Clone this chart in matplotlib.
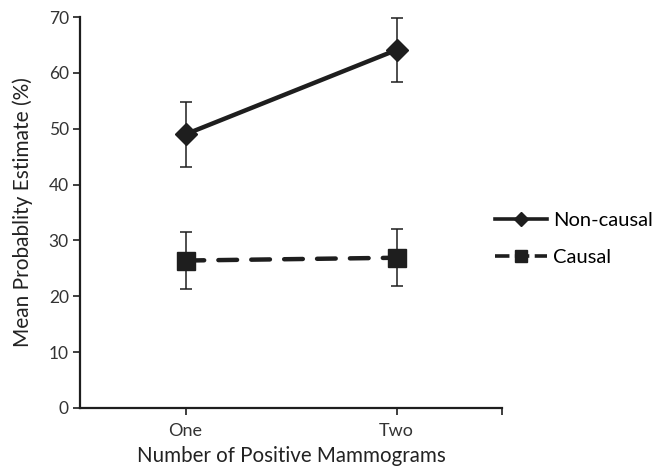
import matplotlib
matplotlib.use("Agg")
import matplotlib.pyplot as plt
from matplotlib.lines import Line2D

plt.rcParams['font.family'] = ['Lato', 'DejaVu Sans']

# data
categories = ["One", "Two"]
noncausal_mean = [49.0, 64.1]
noncausal_err = [5.8, 5.8]
causal_mean = [26.4, 26.9]
causal_err = [5.1, 5.1]

ink = "#1e1e1e"
dash = (0, (4.2, 3.2))
x = list(range(len(categories)))

fig = plt.figure(figsize=(6.57, 4.68), dpi=100)
ax = fig.add_axes([80/657, 1 - 408/468, (502 - 80)/657, (408 - 17)/468])

ax.errorbar(x, noncausal_mean, yerr=noncausal_err, color=ink, lw=3.2,
            marker="D", ms=11, ecolor=ink, elinewidth=1.1, capsize=4.5,
            capthick=1.1)
ax.errorbar(x, causal_mean, yerr=causal_err, color=ink, lw=3.2,
            ls=dash, dash_capstyle="round",
            marker="s", ms=13, ecolor=ink, elinewidth=1.1, capsize=4.5,
            capthick=1.1)

ax.set_xlim(-0.5, 1.5)
ax.set_ylim(0, 70)
ax.set_yticks(range(0, 71, 10))
ax.set_xticks(x)
ax.set_xticklabels(categories)
ax.set_xticks([1.5], minor=True)

for side in ["top", "right"]:
    ax.spines[side].set_visible(False)
for side in ["left", "bottom"]:
    ax.spines[side].set_color(ink)
    ax.spines[side].set_linewidth(1.6)
ax.tick_params(axis="both", which="both", color=ink, width=1.2, length=5,
               labelcolor="#333333")
ax.tick_params(axis="y", labelsize=12.5, pad=3)
ax.tick_params(axis="x", labelsize=13, pad=6)

ax.set_xlabel("Number of Positive Mammograms", fontsize=14.8, color="#222222",
              labelpad=4.5)
ax.set_ylabel("Mean Probablity Estimate (%)", fontsize=15, color="#222222",
              labelpad=11)

handles = [
    Line2D([], [], color=ink, lw=2.6, marker="D", ms=7.5),
    Line2D([], [], color=ink, lw=2.6, ls=(0, (4, 1.5)), marker="s", ms=9),
]
fig.legend(handles, ["Non-causal", "Causal"], loc="center left",
           bbox_to_anchor=(495/657, 1 - 239/468),
           frameon=False, fontsize=14.5, handlelength=2.6, handletextpad=0.3,
           labelspacing=0.95, borderpad=0, borderaxespad=0)

fig.savefig("out.png", dpi=100)
